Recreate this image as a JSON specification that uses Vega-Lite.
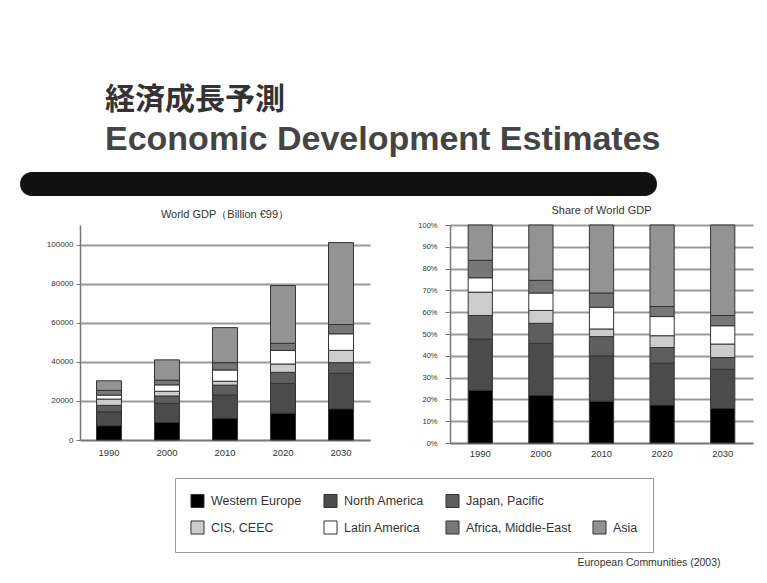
{
  "$schema": "https://vega.github.io/schema/vega-lite/v6.json",
  "background": "white",
  "padding": {"left": 20, "top": 85, "right": 5, "bottom": 5},
  "title": {
    "text": "経済成長予測",
    "subtitle": "Economic Development Estimates",
    "anchor": "start",
    "dx": 85,
    "font": "Noto Sans CJK JP",
    "fontSize": 30,
    "fontWeight": "bold",
    "color": "#333333",
    "subtitleFont": "Liberation Sans",
    "subtitleFontSize": 34,
    "subtitleFontWeight": "bold",
    "subtitleColor": "#444444",
    "subtitlePadding": 8,
    "offset": 15
  },
  "config": {
    "view": {"stroke": null},
    "font": "Liberation Sans",
    "axis": {"labelFont": "Liberation Sans", "labelColor": "#333333", "domainColor": "#777777", "tickColor": "#777777"},
    "legend": {
      "orient": "none",
      "legendX": 155,
      "legendY": 306,
      "direction": "horizontal",
      "columns": 4,
      "symbolType": "square",
      "symbolSize": 170,
      "symbolStrokeColor": "#333333",
      "symbolStrokeWidth": 1,
      "labelFont": "Liberation Sans",
      "labelFontSize": 12.5,
      "labelColor": "#333333",
      "labelOffset": 6,
      "labelLimit": 200,
      "strokeColor": "#999999",
      "fillColor": "white",
      "padding": 15,
      "rowPadding": 8,
      "columnPadding": 19
    }
  },
  "datasets": {
    "regionOrder": [
      {"region": "Western Europe", "rank": 1},
      {"region": "North America", "rank": 2},
      {"region": "Japan, Pacific", "rank": 3},
      {"region": "CIS, CEEC", "rank": 4},
      {"region": "Latin America", "rank": 5},
      {"region": "Africa, Middle-East", "rank": 6},
      {"region": "Asia", "rank": 7}
    ],
    "gdp": [
      {"year": "1990", "region": "Western Europe", "gdp": 7330},
      {"year": "1990", "region": "North America", "gdp": 7120},
      {"year": "1990", "region": "Japan, Pacific", "gdp": 3270},
      {"year": "1990", "region": "CIS, CEEC", "gdp": 3240},
      {"year": "1990", "region": "Latin America", "gdp": 2000},
      {"year": "1990", "region": "Africa, Middle-East", "gdp": 2420},
      {"year": "1990", "region": "Asia", "gdp": 4910},
      {"year": "2000", "region": "Western Europe", "gdp": 8940},
      {"year": "2000", "region": "North America", "gdp": 9800},
      {"year": "2000", "region": "Japan, Pacific", "gdp": 3770},
      {"year": "2000", "region": "CIS, CEEC", "gdp": 2420},
      {"year": "2000", "region": "Latin America", "gdp": 3280},
      {"year": "2000", "region": "Africa, Middle-East", "gdp": 2380},
      {"year": "2000", "region": "Asia", "gdp": 10410},
      {"year": "2010", "region": "Western Europe", "gdp": 11040},
      {"year": "2010", "region": "North America", "gdp": 11960},
      {"year": "2010", "region": "Japan, Pacific", "gdp": 5060},
      {"year": "2010", "region": "CIS, CEEC", "gdp": 2010},
      {"year": "2010", "region": "Latin America", "gdp": 5750},
      {"year": "2010", "region": "Africa, Middle-East", "gdp": 3740},
      {"year": "2010", "region": "Asia", "gdp": 17940},
      {"year": "2020", "region": "Western Europe", "gdp": 13750},
      {"year": "2020", "region": "North America", "gdp": 15170},
      {"year": "2020", "region": "Japan, Pacific", "gdp": 5690},
      {"year": "2020", "region": "CIS, CEEC", "gdp": 4270},
      {"year": "2020", "region": "Latin America", "gdp": 6950},
      {"year": "2020", "region": "Africa, Middle-East", "gdp": 3630},
      {"year": "2020", "region": "Asia", "gdp": 29550},
      {"year": "2030", "region": "Western Europe", "gdp": 15960},
      {"year": "2030", "region": "North America", "gdp": 18180},
      {"year": "2030", "region": "Japan, Pacific", "gdp": 5450},
      {"year": "2030", "region": "CIS, CEEC", "gdp": 6260},
      {"year": "2030", "region": "Latin America", "gdp": 8480},
      {"year": "2030", "region": "Africa, Middle-East", "gdp": 4750},
      {"year": "2030", "region": "Asia", "gdp": 41920}
    ]
  },
  "spacing": 9,
  "vconcat": [
    {
      "width": 637,
      "height": 24,
      "view": {"fill": "#111111", "cornerRadius": 12, "stroke": null},
      "data": {"values": []},
      "mark": "text",
      "encoding": {}
    },
    {
      "spacing": 24,
      "hconcat": [
        {
          "width": 1,
          "height": 10,
          "data": {"values": []},
          "mark": "text",
          "encoding": {}
        },
        {
          "width": 290,
          "height": 215,
          "title": {"text": "World GDP（Billion €99）", "font": "Liberation Sans", "fontSize": 11, "fontWeight": "normal", "color": "#333333", "offset": 5},
          "data": {"name": "gdp"},
          "transform": [
            {"lookup": "region", "from": {"data": {"name": "regionOrder"}, "key": "region", "fields": ["rank"]}}
          ],
          "mark": {"type": "bar", "stroke": "#333333", "strokeWidth": 1},
          "encoding": {
            "x": {
              "field": "year", "type": "ordinal",
              "scale": {"paddingInner": 0.57, "paddingOuter": 0.285},
              "axis": {"title": null, "labelAngle": 0, "labelFontSize": 9.5, "labelPadding": 7, "ticks": false, "domainWidth": 1.5}
            },
            "y": {
              "field": "gdp", "type": "quantitative", "stack": "zero",
              "scale": {"domain": [0, 110000], "nice": false},
              "axis": {"title": null, "values": [0, 20000, 40000, 60000, 80000, 100000], "format": "d", "labelFontSize": 8, "labelPadding": 3, "tickSize": 4, "minExtent": 35, "maxExtent": 35, "gridColor": "#999999", "gridWidth": 2, "domainWidth": 1.5}
            },
            "order": {"field": "rank", "type": "quantitative", "sort": "ascending"},
            "color": {
              "field": "region", "type": "nominal",
              "scale": {
                "domain": ["Western Europe", "North America", "Japan, Pacific", " ", "CIS, CEEC", "Latin America", "Africa, Middle-East", "Asia"],
                "range": ["#000000", "#4b4b4b", "#5e5e5e", "#ffffff", "#cccccc", "#ffffff", "#777777", "#939393"]
              },
              "legend": {
                "title": null,
                "encode": {"symbols": {"update": {"opacity": {"signal": "datum.value === ' ' ? 0 : 1"}}}}
              }
            }
          }
        },
        {
          "width": 303,
          "height": 218,
          "title": {"text": "Share of World GDP", "font": "Liberation Sans", "fontSize": 11, "fontWeight": "normal", "color": "#333333", "offset": 5},
          "data": {"name": "gdp"},
          "transform": [
            {"lookup": "region", "from": {"data": {"name": "regionOrder"}, "key": "region", "fields": ["rank"]}}
          ],
          "mark": {"type": "bar", "stroke": "#333333", "strokeWidth": 1},
          "encoding": {
            "x": {
              "field": "year", "type": "ordinal",
              "scale": {"paddingInner": 0.6, "paddingOuter": 0.3},
              "axis": {
                "labelAngle": 0, "labelFontSize": 9.5, "labelPadding": 5, "ticks": false, "domainWidth": 1.5,
                "title": "European Communities (2003)",
                "titleFont": "Liberation Sans", "titleFontSize": 10.5, "titleFontWeight": "normal", "titleColor": "#333333",
                "titleX": 270, "titleY": 122, "titleAlign": "right", "titleBaseline": "alphabetic", "titleAnchor": null
              }
            },
            "y": {
              "field": "gdp", "type": "quantitative", "stack": "normalize",
              "scale": {"domain": [0, 1], "nice": false},
              "axis": {"title": null, "values": [0, 0.1, 0.2, 0.3, 0.4, 0.5, 0.6, 0.7, 0.8, 0.9, 1], "format": ".0%", "labelFontSize": 7.5, "labelPadding": 8, "tickSize": 5, "minExtent": 56, "gridColor": "#999999", "gridWidth": 2, "domainWidth": 1.5}
            },
            "order": {"field": "rank", "type": "quantitative", "sort": "ascending"},
            "color": {
              "field": "region", "type": "nominal",
              "scale": {
                "domain": ["Western Europe", "North America", "Japan, Pacific", " ", "CIS, CEEC", "Latin America", "Africa, Middle-East", "Asia"],
                "range": ["#000000", "#4b4b4b", "#5e5e5e", "#ffffff", "#cccccc", "#ffffff", "#777777", "#939393"]
              },
              "legend": {
                "title": null,
                "encode": {"symbols": {"update": {"opacity": {"signal": "datum.value === ' ' ? 0 : 1"}}}}
              }
            }
          }
        }
      ]
    }
  ]
}
